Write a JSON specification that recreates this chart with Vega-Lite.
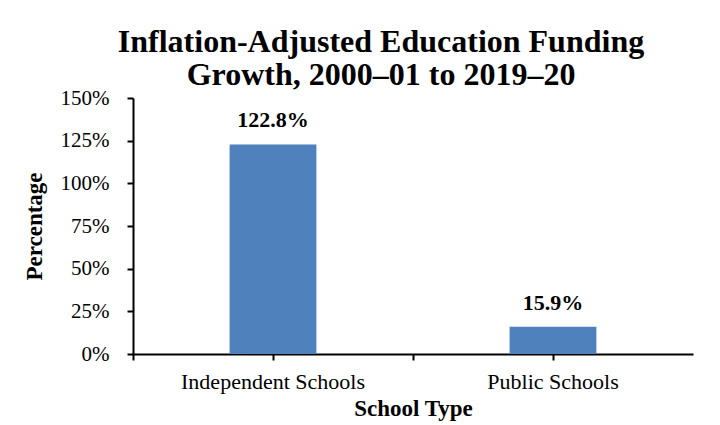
{
  "$schema": "https://vega.github.io/schema/vega-lite/v6.json",
  "autosize": "none",
  "width": 560,
  "height": 256,
  "padding": {"left": 133, "top": 98, "right": 27, "bottom": 71},
  "background": "white",
  "config": {
    "view": {"stroke": null},
    "font": "Liberation Serif",
    "axis": {"labelFont": "Liberation Serif", "titleFont": "Liberation Serif"},
    "text": {"font": "Liberation Serif"}
  },
  "title": {
    "text": ["Inflation-Adjusted Education Funding", "Growth, 2000–01 to 2019–20"],
    "font": "Liberation Serif",
    "fontSize": 32,
    "fontWeight": "bold",
    "color": "black",
    "lineHeight": 33,
    "anchor": "middle",
    "dx": -32,
    "offset": -5
  },
  "data": {
    "values": [
      {"type": "Independent Schools", "value": 122.8, "label": "122.8%"},
      {"type": "Public Schools", "value": 15.9, "label": "15.9%"}
    ]
  },
  "layer": [
    {
      "mark": {"type": "bar", "color": "#4F81BD", "width": {"band": 0.31}},
      "encoding": {
        "x": {
          "field": "type",
          "type": "nominal",
          "sort": null,
          "scale": {"paddingInner": 0, "paddingOuter": 0},
          "axis": {
            "title": "School Type",
            "titleFont": "Liberation Serif",
            "titleFontSize": 23,
            "titleFontWeight": "bold",
            "titleColor": "black",
            "titlePadding": 5,
            "labelFont": "Liberation Serif",
            "labelFontSize": 22,
            "labelFontWeight": "normal",
            "labelColor": "black",
            "labelAngle": 0,
            "labelPadding": 11,
            "labelLimit": 0,
            "bandPosition": 0,
            "domainColor": "black",
            "domainWidth": 2,
            "tickColor": "black",
            "tickWidth": 2,
            "tickSize": 6
          }
        },
        "y": {
          "field": "value",
          "type": "quantitative",
          "scale": {"domain": [0, 150], "nice": false},
          "axis": {
            "title": "Percentage",
            "titleFont": "Liberation Serif",
            "titleFontSize": 23,
            "titleFontWeight": "bold",
            "titleColor": "black",
            "titlePadding": 14,
            "labelFont": "Liberation Serif",
            "labelFontSize": 21,
            "labelColor": "black",
            "labelPadding": 18,
            "values": [0, 25, 50, 75, 100, 125, 150],
            "labelExpr": "datum.value + '%'",
            "grid": false,
            "domainColor": "black",
            "domainWidth": 2,
            "tickColor": "black",
            "tickWidth": 2,
            "tickSize": 6
          }
        }
      }
    },
    {
      "mark": {"type": "text", "baseline": "alphabetic", "dy": -17, "font": "Liberation Serif", "fontSize": 22, "fontWeight": "bold", "color": "black"},
      "encoding": {
        "x": {
          "field": "type",
          "type": "nominal",
          "sort": null,
          "scale": {"paddingInner": 0, "paddingOuter": 0},
          "axis": {
            "orient": "bottom",
            "title": null,
            "labels": false,
            "domain": false,
            "bandPosition": 1,
            "tickColor": "black",
            "tickWidth": 2,
            "tickSize": 6
          }
        },
        "y": {"field": "value", "type": "quantitative", "scale": {"domain": [0, 150], "nice": false}},
        "text": {"field": "label"}
      }
    }
  ],
  "resolve": {"scale": {"x": "independent"}, "axis": {"x": "independent"}}
}
